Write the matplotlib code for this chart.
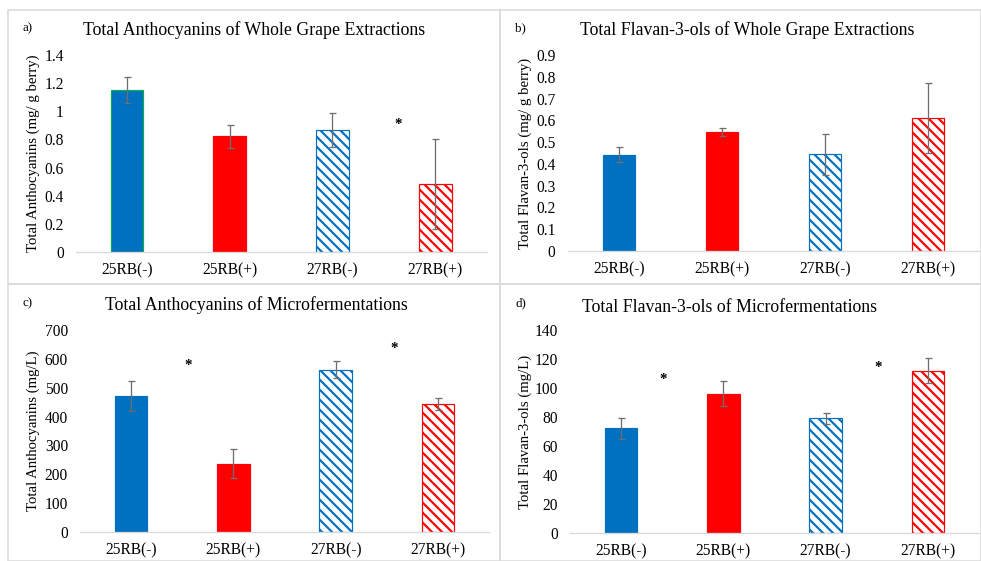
import matplotlib
matplotlib.use("Agg")
import matplotlib.pyplot as plt
from matplotlib.patches import Rectangle

categories = ["25RB(-)", "25RB(+)", "27RB(-)", "27RB(+)"]

anth_whole = [1.15, 0.823, 0.866, 0.484]
anth_whole_err = [0.093, 0.083, 0.122, 0.317]
flav_whole = [0.443, 0.547, 0.445, 0.610]
flav_whole_err = [0.033, 0.017, 0.094, 0.161]
anth_micro = [472, 237, 562, 445]
anth_micro_err = [52, 51, 29, 21]
flav_micro = [72.3, 96.2, 79.0, 111.9]
flav_micro_err = [7.3, 8.3, 3.8, 8.7]

# asterisk annotations (x in category units, y in data units)
stars_a = [(2.64, 0.906)]
stars_b = []
stars_c = [(0.56, 577), (2.57, 637)]
stars_d = [(0.41, 105.9), (2.51, 114.2)]

W, H = 981, 561
DPI = 60
plt.rcParams["font.family"] = ["Liberation Serif", "DejaVu Serif"]
plt.rcParams["hatch.linewidth"] = 2.6

def pt(px):
    return px * 72.0 / DPI

fig = plt.figure(figsize=(W / DPI, H / DPI), dpi=DPI)

def fx(x):
    return x / W

def fy(y):
    return 1 - y / H

# panel borders
border = "#d9d9d9"
for (x0, y0, x1, y1) in [(8, 10, 500, 284), (500, 10, 981, 284), (8, 284, 500, 561), (500, 284, 981, 561)]:
    fig.add_artist(Rectangle((fx(x0), fy(y1)), fx(x1 - x0), (y1 - y0) / H,
                             transform=fig.transFigure, fill=False, edgecolor=border,
                             linewidth=pt(1.5)))

blue = "#0070C0"
red = "#FF0000"

def panel(box, vals, errs, ymax, ystep, ylabel, title, letter, titlepos, letterpos, ylabx, stars, fmt, first_edge):
    left, top, right, bottom = box
    ax = fig.add_axes([fx(left), fy(bottom), fx(right - left), (bottom - top) / H])
    xs = range(len(categories))
    width = 0.32
    faces = [blue, red, "white", "white"]
    edges = [first_edge, red, blue, red]
    hatches = [None, None, "\\\\", "\\\\"]
    for i in xs:
        ax.bar(i, vals[i], width=width, color=faces[i], edgecolor=edges[i],
               hatch=hatches[i], linewidth=pt(1.2), zorder=2)
    ax.errorbar(list(xs), vals, yerr=errs, fmt="none", ecolor="#6e6e6e",
                elinewidth=pt(1.3), capsize=pt(3.5), capthick=pt(1.3), zorder=3)
    ax.set_xlim(-0.5, 3.5)
    ax.set_ylim(0, ymax)
    n = int(round(ymax / ystep))
    ticks = [ystep * k for k in range(n + 1)]
    ax.set_yticks(ticks)
    ax.set_yticklabels([fmt(t) for t in ticks], fontsize=pt(15.5))
    ax.set_xticks(list(xs))
    ax.set_xticklabels(categories, fontsize=pt(15.5))
    ax.tick_params(length=0)
    ax.tick_params(axis="x", pad=pt(10))
    ax.tick_params(axis="y", pad=pt(12))
    for s in ["top", "right", "left"]:
        ax.spines[s].set_visible(False)
    ax.spines["bottom"].set_color("#d9d9d9")
    ax.spines["bottom"].set_linewidth(pt(1.3))
    for (sx, sy) in stars:
        ax.text(sx, sy, "*", ha="center", va="center", fontsize=pt(15), fontweight="bold")
    fig.text(fx(ylabx), fy((top + bottom) / 2), ylabel, rotation=90, ha="center", va="center",
             fontsize=pt(14.8))
    fig.text(fx(titlepos[0]), fy(titlepos[1]), title, ha="center", va="center", fontsize=pt(17.8))
    fig.text(fx(letterpos[0]), fy(letterpos[1]), letter, ha="left", va="center", fontsize=pt(13))
    return ax

def f1(t):
    s = ("%.1f" % t)
    if s.endswith(".0"):
        s = s[:-2]
    return s

def f0(t):
    return "%d" % round(t)

panel((75.7, 55, 486.5, 252), anth_whole, anth_whole_err, 1.4, 0.2,
      "Total Anthocyanins (mg/ g berry)", "Total Anthocyanins of Whole Grape Extractions", "a)",
      (254, 30), (22, 28), 33, stars_a, f1, "#00B050")
panel((567.5, 55, 979.5, 251), flav_whole, flav_whole_err, 0.9, 0.1,
      "Total Flavan-3-ols (mg/ g berry)", "Total Flavan-3-ols of Whole Grape Extractions", "b)",
      (747, 30), (515, 28), 525, stars_b, f1, blue)
panel((80, 330, 489, 532), anth_micro, anth_micro_err, 700, 100,
      "Total Anthocyanins (mg/L)", "Total Anthocyanins of Microfermentations", "c)",
      (256, 305), (22, 303), 33, stars_c, f0, blue)
panel((570, 330, 979, 533), flav_micro, flav_micro_err, 140, 20,
      "Total Flavan-3-ols (mg/L)", "Total Flavan-3-ols of Microfermentations", "d)",
      (729, 308), (515, 303), 525, stars_d, f0, blue)

fig.savefig("out.png", dpi=DPI)
